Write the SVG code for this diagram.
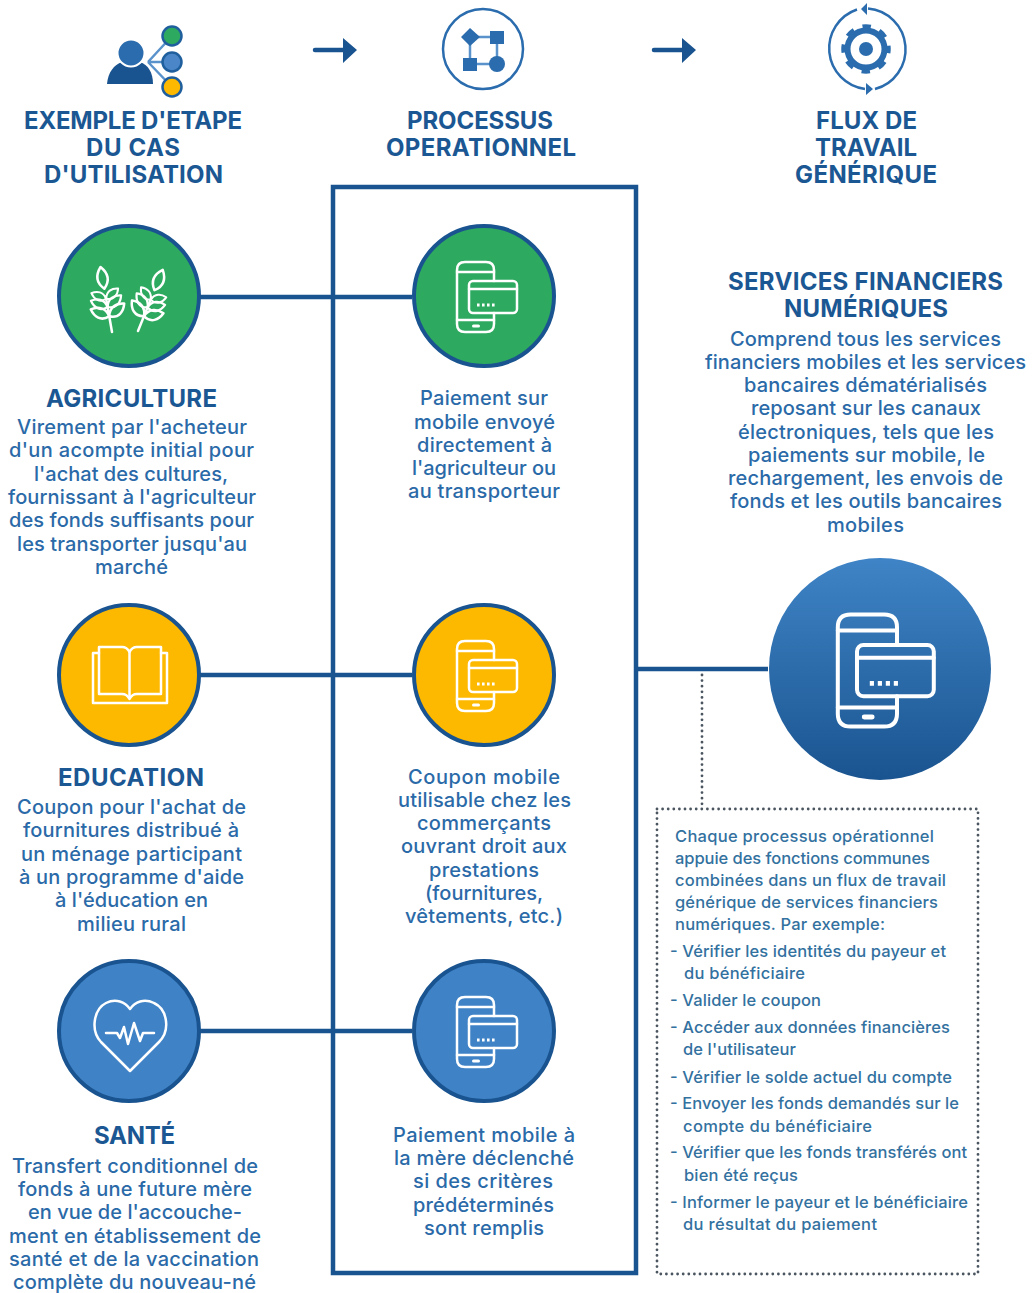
<svg xmlns="http://www.w3.org/2000/svg" xmlns:xlink="http://www.w3.org/1999/xlink" width="1032" height="1293" viewBox="0 0 1032 1293">
<style>
text{font-family:"Inter","Liberation Sans",sans-serif}
.h{font-size:24px;font-weight:700;fill:#1b5793}
.t{font-size:20px;font-weight:500;fill:#2b6aa8}
.s{font-size:16.5px;font-weight:500;fill:#33719f}
.ring{stroke:#1a5490;stroke-width:4}
.wl{fill:none;stroke:#fff;stroke-width:2.5;stroke-linecap:round;stroke-linejoin:round}
.conn{fill:none;stroke:#1a5490;stroke-width:4.5}
.dot{fill:none;stroke:#4a5560;stroke-width:2.800;stroke-linecap:round;stroke-dasharray:0 5.600}
.ib{fill:#2a6cad}
.il{fill:none;stroke:#5a93cb;stroke-width:2.5}
</style>
<defs>
<linearGradient id="bg" x1="0" y1="0" x2="0" y2="1"><stop offset="0" stop-color="#3f84c6"/><stop offset="1" stop-color="#1a5490"/></linearGradient>
<g id="pay" class="wl">
<path d="M10-15V-26Q10-34 2-34H-19Q-27-34-27-26V28Q-27 36-19 36H2Q10 36 10 28V17"/>
<path d="M-27-24H10M-27 24H10"/>
<rect x="-15" y="-15" width="48" height="32" rx="4"/>
<path d="M-15-7H33"/>
<path d="M-7 9H11" stroke-dasharray="2.6 2.4" stroke-linecap="butt" stroke-width="3"/>
<path d="M-10.500 30H-5.500" stroke-width="3"/>
</g>
<g id="wheat" class="wl">
<path d="M0 0V-36"/>
<path id="lf" d="M0-16C-9-12-15-18-17-26C-9-28-2-25 0-16Z"/>
<use xlink:href="#lf" transform="matrix(-1 0 0 1 0 0)"/>
<use xlink:href="#lf" transform="translate(0-11) scale(.9)"/>
<use xlink:href="#lf" transform="translate(0-11) matrix(-.9 0 0 .9 0 0)"/>
<use xlink:href="#lf" transform="translate(0-21) scale(.8)"/>
<use xlink:href="#lf" transform="translate(0-21) matrix(-.8 0 0 .8 0 0)"/>
<path d="M0-44C-7-51-7-58 0-66C7-58 7-51 0-44Z"/>
</g>
</defs>
<rect width="1032" height="1293" fill="#fff"/>

<g id="connectors">
<rect class="conn" x="333" y="187" width="303" height="1086"/>
<path class="conn" d="M200 297H412M200 675H412M200 1031H412M636 669H768"/>
<path class="dot" d="M702 675V806"/>
<rect class="dot" x="657" y="809" width="321" height="465"/>
<path class="conn" stroke-linecap="round" d="M315 50H346M654 50H685"/>
<path fill="#1a5490" d="M343 38L357 50L343 63ZM682 38L696 50L682 63Z"/>
</g>

<g id="icon-stakeholder">
<path class="il" d="M148 62L172 36M148 62H172M148 62L172 87"/>
<path fill="#1a5490" d="M107 84C108 72 114 65 122 62H140C148 65 153 72 153 84Z"/>
<circle class="ib" cx="131" cy="53" r="13.500" stroke="#fff" stroke-width="2"/>
<circle cx="172" cy="36" r="9.500" fill="#2eaa60" stroke="#1f5f9e" stroke-width="2.500"/>
<circle cx="172" cy="62" r="9.500" fill="#4a86c8" stroke="#1f5f9e" stroke-width="2.500"/>
<circle cx="172" cy="87" r="9.500" fill="#fdb900" stroke="#1f5f9e" stroke-width="2.500"/>
</g>
<g id="icon-process">
<circle cx="483" cy="49" r="40" fill="none" stroke="#2a6cad" stroke-width="2.500"/>
<path class="il" d="M470 37H497V64H470Z"/>
<path class="ib" d="M470 28L480 37L470 46L461 37ZM490 31H504V44H490ZM463 58H477V71H463Z"/>
<circle class="ib" cx="497" cy="64" r="8"/>
</g>
<g id="icon-workflow">
<circle cx="866" cy="49" r="18.500" fill="none" stroke="#2a6cad" stroke-width="6"/>
<circle cx="866" cy="49" r="22.500" fill="none" stroke="#2a6cad" stroke-width="4.500" stroke-dasharray="8.500 9.170" stroke-dashoffset="4.250"/>
<circle class="ib" cx="866" cy="49" r="7"/>
<path fill="none" stroke="#2a6cad" stroke-width="2.500" d="M868 8.500A41 41 0 0 1 875 89M857 9.500A41 41 0 0 0 865 89"/>
<path class="ib" d="M867 3L861 9L867 15ZM866 83V95L873 89Z"/>
</g>

<g id="node-agriculture">
<circle class="ring" cx="129" cy="296" r="70" fill="#2eaa60"/>
<use xlink:href="#wheat" transform="translate(112 332) rotate(-10)"/>
<use xlink:href="#wheat" transform="translate(138 331) rotate(22)"/>
<text class="h" x="46" y="407" textLength="171">AGRICULTURE</text>
<text class="t" x="17" y="434" textLength="230">Virement par l'acheteur</text>
<text class="t" x="9" y="457" textLength="245">d'un acompte initial pour</text>
<text class="t" x="34" y="481" textLength="194">l'achat des cultures,</text>
<text class="t" x="8" y="504" textLength="248">fournissant à l'agriculteur</text>
<text class="t" x="9" y="527" textLength="245">des fonds suffisants pour</text>
<text class="t" x="17" y="551" textLength="230">les transporter jusqu'au</text>
<text class="t" x="95" y="574" textLength="73">marché</text>
</g>
<g id="node-education">
<circle class="ring" cx="129" cy="675" r="70" fill="#fdb900"/>
<g class="wl" stroke-width="2.2">
<path d="M99 693V647H122Q127 647 129.500 652Q132 647 137 647H161V693"/>
<path d="M129.500 652V697"/>
<path d="M99 694H122Q127 694 129.500 699Q132 694 137 694H161"/>
<path d="M99 653H93V703H167V653H161"/>
</g>
<text class="h" x="58" y="786" textLength="146">EDUCATION</text>
<text class="t" x="17" y="814" textLength="229">Coupon pour l'achat de</text>
<text class="t" x="23" y="837" textLength="216">fournitures distribué à</text>
<text class="t" x="21" y="861" textLength="221">un ménage participant</text>
<text class="t" x="19" y="884" textLength="225">à un programme d'aide</text>
<text class="t" x="55" y="907" textLength="153">à l'éducation en</text>
<text class="t" x="77" y="931" textLength="109">milieu rural</text>
</g>
<g id="node-sante">
<circle class="ring" cx="129" cy="1031" r="70" fill="#3f82c6"/>
<g class="wl">
<path d="M130 1071L101 1042C90 1030 94 1009 106 1003C116 998 125 1002 130 1009C135 1002 144 998 154 1003C167 1009 171 1030 159 1042Z"/>
<path d="M106 1033H117L120 1038L124 1027L128 1044L134 1023L140 1041L143 1033H154"/>
</g>
<text class="h" x="94" y="1144" textLength="81">SANTÉ</text>
<text class="t" x="12" y="1173" textLength="246">Transfert conditionnel de</text>
<text class="t" x="18" y="1196" textLength="234">fonds à une future mère</text>
<text class="t" x="28" y="1219" textLength="214">en vue de l'accouche-</text>
<text class="t" x="9" y="1243" textLength="252">ment en établissement de</text>
<text class="t" x="9" y="1266" textLength="250">santé et de la vaccination</text>
<text class="t" x="13" y="1289" textLength="243">complète du nouveau-né</text>
</g>

<g id="node-paiement-agriculture">
<circle class="ring" cx="484" cy="296" r="70" fill="#2eaa60"/>
<use xlink:href="#pay" x="484" y="296"/>
<text class="t" x="420" y="405" textLength="128">Paiement sur</text>
<text class="t" x="414" y="429" textLength="141">mobile envoyé</text>
<text class="t" x="417" y="452" textLength="135">directement à</text>
<text class="t" x="412" y="475" textLength="144">l'agriculteur ou</text>
<text class="t" x="408" y="498" textLength="152">au transporteur</text>
</g>
<g id="node-coupon">
<circle class="ring" cx="484" cy="675" r="70" fill="#fdb900"/>
<use xlink:href="#pay" x="484" y="675"/>
<text class="t" x="408" y="784" textLength="152">Coupon mobile</text>
<text class="t" x="398" y="807" textLength="173">utilisable chez les</text>
<text class="t" x="417" y="830" textLength="134">commerçants</text>
<text class="t" x="401" y="853" textLength="166">ouvrant droit aux</text>
<text class="t" x="429" y="877" textLength="110">prestations</text>
<text class="t" x="425" y="900" textLength="118">(fournitures,</text>
<text class="t" x="405" y="923" textLength="158">vêtements, etc.)</text>
</g>
<g id="node-paiement-mere">
<circle class="ring" cx="484" cy="1031" r="70" fill="#3f82c6"/>
<use xlink:href="#pay" x="484" y="1031"/>
<text class="t" x="393" y="1142" textLength="182">Paiement mobile à</text>
<text class="t" x="394" y="1165" textLength="180">la mère déclenché</text>
<text class="t" x="413" y="1188" textLength="140">si des critères</text>
<text class="t" x="413" y="1212" textLength="141">prédéterminés</text>
<text class="t" x="424" y="1235" textLength="120">sont remplis</text>
</g>

<g id="node-services">
<circle cx="880" cy="669" r="111" fill="url(#bg)"/>
<use xlink:href="#pay" transform="translate(881 669) scale(1.6)"/>
<text class="h" x="728" y="290" textLength="275">SERVICES FINANCIERS</text>
<text class="h" x="784" y="317" textLength="164">NUMÉRIQUES</text>
<text class="t" x="730" y="346" textLength="271">Comprend tous les services</text>
<text class="t" x="705" y="369" textLength="321">financiers mobiles et les services</text>
<text class="t" x="744" y="392" textLength="243">bancaires dématérialisés</text>
<text class="t" x="751" y="415" textLength="230">reposant sur les canaux</text>
<text class="t" x="738" y="439" textLength="256">électroniques, tels que les</text>
<text class="t" x="748" y="462" textLength="237">paiements sur mobile, le</text>
<text class="t" x="728" y="485" textLength="275">rechargement, les envois de</text>
<text class="t" x="730" y="508" textLength="272">fonds et les outils bancaires</text>
<text class="t" x="827" y="532" textLength="77">mobiles</text>
</g>

<g id="headers">
<text class="h" x="24" y="129" textLength="218">EXEMPLE D'ETAPE</text>
<text class="h" x="86" y="156" textLength="94">DU CAS</text>
<text class="h" x="44" y="183" textLength="179">D'UTILISATION</text>
<text class="h" x="407" y="129" textLength="146">PROCESSUS</text>
<text class="h" x="386" y="156" textLength="190">OPERATIONNEL</text>
<text class="h" x="816" y="129" textLength="101">FLUX DE</text>
<text class="h" x="815" y="156" textLength="102">TRAVAIL</text>
<text class="h" x="795" y="183" textLength="142">GÉNÉRIQUE</text>
</g>

<g id="note">
<text class="s" x="675" y="842" textLength="259">Chaque processus opérationnel</text>
<text class="s" x="675" y="864" textLength="255">appuie des fonctions communes</text>
<text class="s" x="675" y="886" textLength="271">combinées dans un flux de travail</text>
<text class="s" x="675" y="908" textLength="263">générique de services financiers</text>
<text class="s" x="675" y="930" textLength="210">numériques. Par exemple:</text>
<text class="s" x="670" y="957" textLength="276">- Vérifier les identités du payeur et</text>
<text class="s" x="684" y="979" textLength="121">du bénéficiaire</text>
<text class="s" x="670" y="1006" textLength="151">- Valider le coupon</text>
<text class="s" x="670" y="1033" textLength="280">- Accéder aux données financières</text>
<text class="s" x="683" y="1055" textLength="113">de l'utilisateur</text>
<text class="s" x="670" y="1083" textLength="282">- Vérifier le solde actuel du compte</text>
<text class="s" x="670" y="1109" textLength="289">- Envoyer les fonds demandés sur le</text>
<text class="s" x="683" y="1132" textLength="189">compte du bénéficiaire</text>
<text class="s" x="670" y="1158" textLength="297">- Vérifier que les fonds transférés ont</text>
<text class="s" x="684" y="1181" textLength="114">bien été reçus</text>
<text class="s" x="670" y="1208" textLength="298">- Informer le payeur et le bénéficiaire</text>
<text class="s" x="683" y="1230" textLength="194">du résultat du paiement</text>
</g>
</svg>
